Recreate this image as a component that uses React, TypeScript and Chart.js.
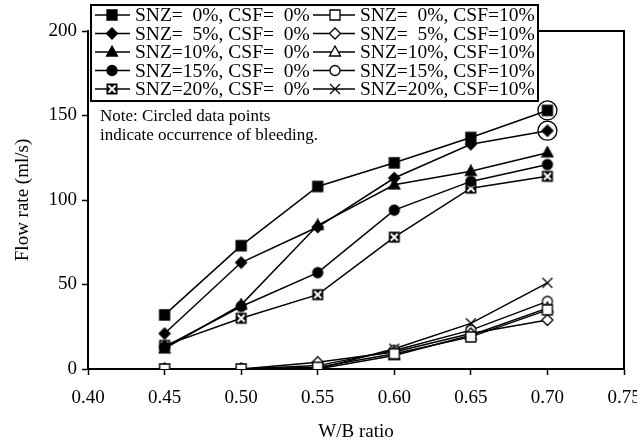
import React, { useEffect, useRef } from 'react';
import { Chart, registerables } from 'chart.js';

Chart.register(...registerables);

// ---- data ----
const wbRatio = [0.45, 0.5, 0.55, 0.6, 0.65, 0.7];
const xTicks = [0.4, 0.45, 0.5, 0.55, 0.6, 0.65, 0.7, 0.75];
const yTicks = [0, 50, 100, 150, 200];

const snz0csf0 = [32, 73, 108, 122, 137, 153];
const snz5csf0 = [21, 63, 84, 113, 133, 141];
const snz10csf0 = [12, 38, 85, 109, 117, 128];
const snz15csf0 = [13, 37, 57, 94, 111, 121];
const snz20csf0 = [14, 30, 44, 78, 107, 114];
const snz0csf10 = [0, 0, 1, 9, 19, 35];
const snz5csf10 = [0, 0, 4, 10, 21, 29];
const snz10csf10 = [0, 0, 0, 8, 20, 36];
const snz15csf10 = [0, 0, 2, 11, 23, 40];
const snz20csf10 = [0, 0, 0, 12, 27, 51];

const labelsCsf0 = [
  'SNZ=  0%, CSF=  0%',
  'SNZ=  5%, CSF=  0%',
  'SNZ=10%, CSF=  0%',
  'SNZ=15%, CSF=  0%',
  'SNZ=20%, CSF=  0%',
];
const labelsCsf10 = [
  'SNZ=  0%, CSF=10%',
  'SNZ=  5%, CSF=10%',
  'SNZ=10%, CSF=10%',
  'SNZ=15%, CSF=10%',
  'SNZ=20%, CSF=10%',
];
const noteLines = ['Note: Circled data points', 'indicate occurrence of bleeding.'];
// [dataset index, point index] of circled (bleeding) points
const bleedingPoints = [
  [0, 5],
  [1, 5],
];

const FONT = '"Liberation Serif", "Times New Roman", serif';

type Marker = 'rect' | 'rectRot' | 'triangle' | 'circle' | 'xbox' | 'cross';

function drawMarker(ctx: CanvasRenderingContext2D, kind: Marker, filled: boolean, x: number, y: number) {
  ctx.save();
  ctx.lineWidth = 1.3;
  ctx.strokeStyle = '#000';
  ctx.fillStyle = filled ? '#000' : '#fff';
  ctx.beginPath();
  if (kind === 'rect') {
    ctx.rect(x - 5, y - 5, 10, 10);
  } else if (kind === 'rectRot') {
    ctx.moveTo(x, y - 5.5);
    ctx.lineTo(x + 5.5, y);
    ctx.lineTo(x, y + 5.5);
    ctx.lineTo(x - 5.5, y);
    ctx.closePath();
  } else if (kind === 'triangle') {
    ctx.moveTo(x, y - 6);
    ctx.lineTo(x + 5.5, y + 4);
    ctx.lineTo(x - 5.5, y + 4);
    ctx.closePath();
  } else if (kind === 'circle') {
    ctx.arc(x, y, 5, 0, Math.PI * 2);
  } else if (kind === 'xbox') {
    ctx.fillStyle = '#000';
    ctx.rect(x - 5.5, y - 5.5, 11, 11);
    ctx.fill();
    ctx.beginPath();
    ctx.strokeStyle = '#fff';
    ctx.lineWidth = 2;
    ctx.moveTo(x - 3.5, y - 3.5);
    ctx.lineTo(x + 3.5, y + 3.5);
    ctx.moveTo(x + 3.5, y - 3.5);
    ctx.lineTo(x - 3.5, y + 3.5);
    ctx.stroke();
    ctx.restore();
    return;
  } else if (kind === 'cross') {
    ctx.moveTo(x - 5, y - 5);
    ctx.lineTo(x + 5, y + 5);
    ctx.moveTo(x + 5, y - 5);
    ctx.lineTo(x - 5, y + 5);
    ctx.stroke();
    ctx.restore();
    return;
  }
  ctx.fill();
  ctx.stroke();
  ctx.restore();
}

function makeMarkerImage(kind: Marker, filled: boolean): HTMLCanvasElement {
  const c = document.createElement('canvas');
  c.width = 14;
  c.height = 14;
  const ctx = c.getContext('2d')!;
  drawMarker(ctx, kind, filled, 7, 7);
  return c;
}

const markersCsf0: Marker[] = ['rect', 'rectRot', 'triangle', 'circle', 'xbox'];
const markersCsf10: Marker[] = ['rect', 'rectRot', 'triangle', 'circle', 'cross'];

const overlayPlugin = {
  id: 'overlay',
  afterDatasetsDraw(chart: any) {
    const ctx: CanvasRenderingContext2D = chart.ctx;
    const { right, top, bottom } = chart.chartArea;
    const xs = chart.scales.x;
    const ys = chart.scales.y;
    ctx.save();
    // bleeding circles
    ctx.strokeStyle = '#000';
    ctx.lineWidth = 1.3;
    bleedingPoints.forEach(([di, pi]) => {
      const v = chart.data.datasets[di].data[pi];
      const px = xs.getPixelForValue(v.x);
      const py = ys.getPixelForValue(v.y);
      ctx.beginPath();
      ctx.arc(px, py, 9.5, 0, Math.PI * 2);
      ctx.stroke();
    });
    // legend box
    const boxL = 91, boxT = 5, boxR = 538, boxB = 101;
    ctx.fillStyle = '#fff';
    ctx.fillRect(boxL, boxT, boxR - boxL, boxB - boxT);
    ctx.lineWidth = 2;
    ctx.strokeStyle = '#000';
    ctx.strokeRect(boxL, boxT, boxR - boxL, boxB - boxT);
    // frame top & right
    ctx.beginPath();
    ctx.moveTo(boxR, top);
    ctx.lineTo(right, top);
    ctx.lineTo(right, bottom);
    ctx.stroke();

    const rowY = [15, 33.5, 52, 70.5, 89];
    ctx.font = `19.5px ${FONT}`;
    ctx.textBaseline = 'middle';
    ctx.textAlign = 'left';
    ctx.fillStyle = '#000';
    const cols = [
      { l0: 95, l1: 130, m: 112, t: 135, labels: labelsCsf0, marks: markersCsf0, filled: true },
      { l0: 313, l1: 355, m: 335, t: 360, labels: labelsCsf10, marks: markersCsf10, filled: false },
    ];
    cols.forEach((c) => {
      c.labels.forEach((lab, i) => {
        const y = rowY[i];
        ctx.beginPath();
        ctx.lineWidth = 1.5;
        ctx.strokeStyle = '#000';
        ctx.moveTo(c.l0, y);
        ctx.lineTo(c.l1, y);
        ctx.stroke();
        drawMarker(ctx, c.marks[i], c.filled, c.m, y);
        ctx.fillStyle = '#000';
        ctx.fillText(lab, c.t, y + 1);
      });
    });
    // note
    ctx.font = `17px ${FONT}`;
    ctx.fillText(noteLines[0], 100, 117);
    ctx.fillText(noteLines[1], 100, 136);
    ctx.restore();
  },
};

export default function App() {
  const ref = useRef<HTMLCanvasElement>(null);
  useEffect(() => {
    document.body.style.margin = '0';
    const all = [
      ...[snz0csf0, snz5csf0, snz10csf0, snz15csf0, snz20csf0].map((d, i) => ({
        label: labelsCsf0[i],
        data: d,
        img: makeMarkerImage(markersCsf0[i], true),
      })),
      ...[snz0csf10, snz5csf10, snz10csf10, snz15csf10, snz20csf10].map((d, i) => ({
        label: labelsCsf10[i],
        data: d,
        img: makeMarkerImage(markersCsf10[i], false),
      })),
    ];
    const datasets = all.map((s) => ({
      label: s.label,
      data: wbRatio.map((x, i) => ({ x, y: s.data[i] })),
      borderColor: '#000',
      borderWidth: 1.5,
      backgroundColor: '#000',
      pointStyle: s.img,
      pointRadius: 6,
      pointHoverRadius: 6,
      tension: 0,
      fill: false,
    }));
    const tickFont = { family: FONT, size: 19 };
    const chart = new Chart(ref.current!, {
      type: 'line',
      data: { datasets },
      options: {
        animation: false,
        responsive: false,
        devicePixelRatio: 1,
        events: [],
        layout: { padding: { left: 0, right: 13, top: 31, bottom: 0 } },
        plugins: { legend: { display: false }, tooltip: { enabled: false } },
        scales: {
          x: {
            type: 'linear',
            min: 0.4,
            max: 0.75,
            afterBuildTicks: (s: any) => {
              s.ticks = xTicks.map((v) => ({ value: v }));
            },
            afterFit: (s: any) => {
              s.height = 74;
              s.paddingLeft = 0;
              s.paddingRight = 0;
            },
            ticks: {
              callback: (v: any) => Number(v).toFixed(2),
              font: tickFont,
              color: '#000',
              padding: 12,
              maxRotation: 0,
              autoSkip: false,
            },
            grid: { display: true, drawOnChartArea: false, drawTicks: true, tickLength: 6, tickColor: '#000', tickWidth: 1.5 },
            border: { display: true, color: '#000', width: 2 },
            title: { display: true, text: 'W/B ratio', font: tickFont, color: '#000', padding: { top: 0, bottom: 0 } },
          },
          y: {
            type: 'linear',
            min: 0,
            max: 200,
            afterBuildTicks: (s: any) => {
              s.ticks = yTicks.map((v) => ({ value: v }));
            },
            afterFit: (s: any) => {
              s.width = 88;
              s.paddingTop = 0;
              s.paddingBottom = 0;
            },
            ticks: { font: tickFont, color: '#000', padding: 5, autoSkip: false },
            grid: { display: true, drawOnChartArea: false, drawTicks: true, tickLength: 6, tickColor: '#000', tickWidth: 1.5 },
            border: { display: true, color: '#000', width: 2 },
            title: { display: true, text: 'Flow rate (ml/s)', font: tickFont, color: '#000', padding: { top: 12, bottom: 0 } },
          },
        },
      },
      plugins: [overlayPlugin],
    } as any);
    return () => chart.destroy();
  }, []);
  return (
    <div style={{ position: 'absolute', left: 0, top: 0, width: 637, height: 443, background: '#fff' }}>
      <canvas ref={ref} width={637} height={443} style={{ display: 'block' }} />
    </div>
  );
}
